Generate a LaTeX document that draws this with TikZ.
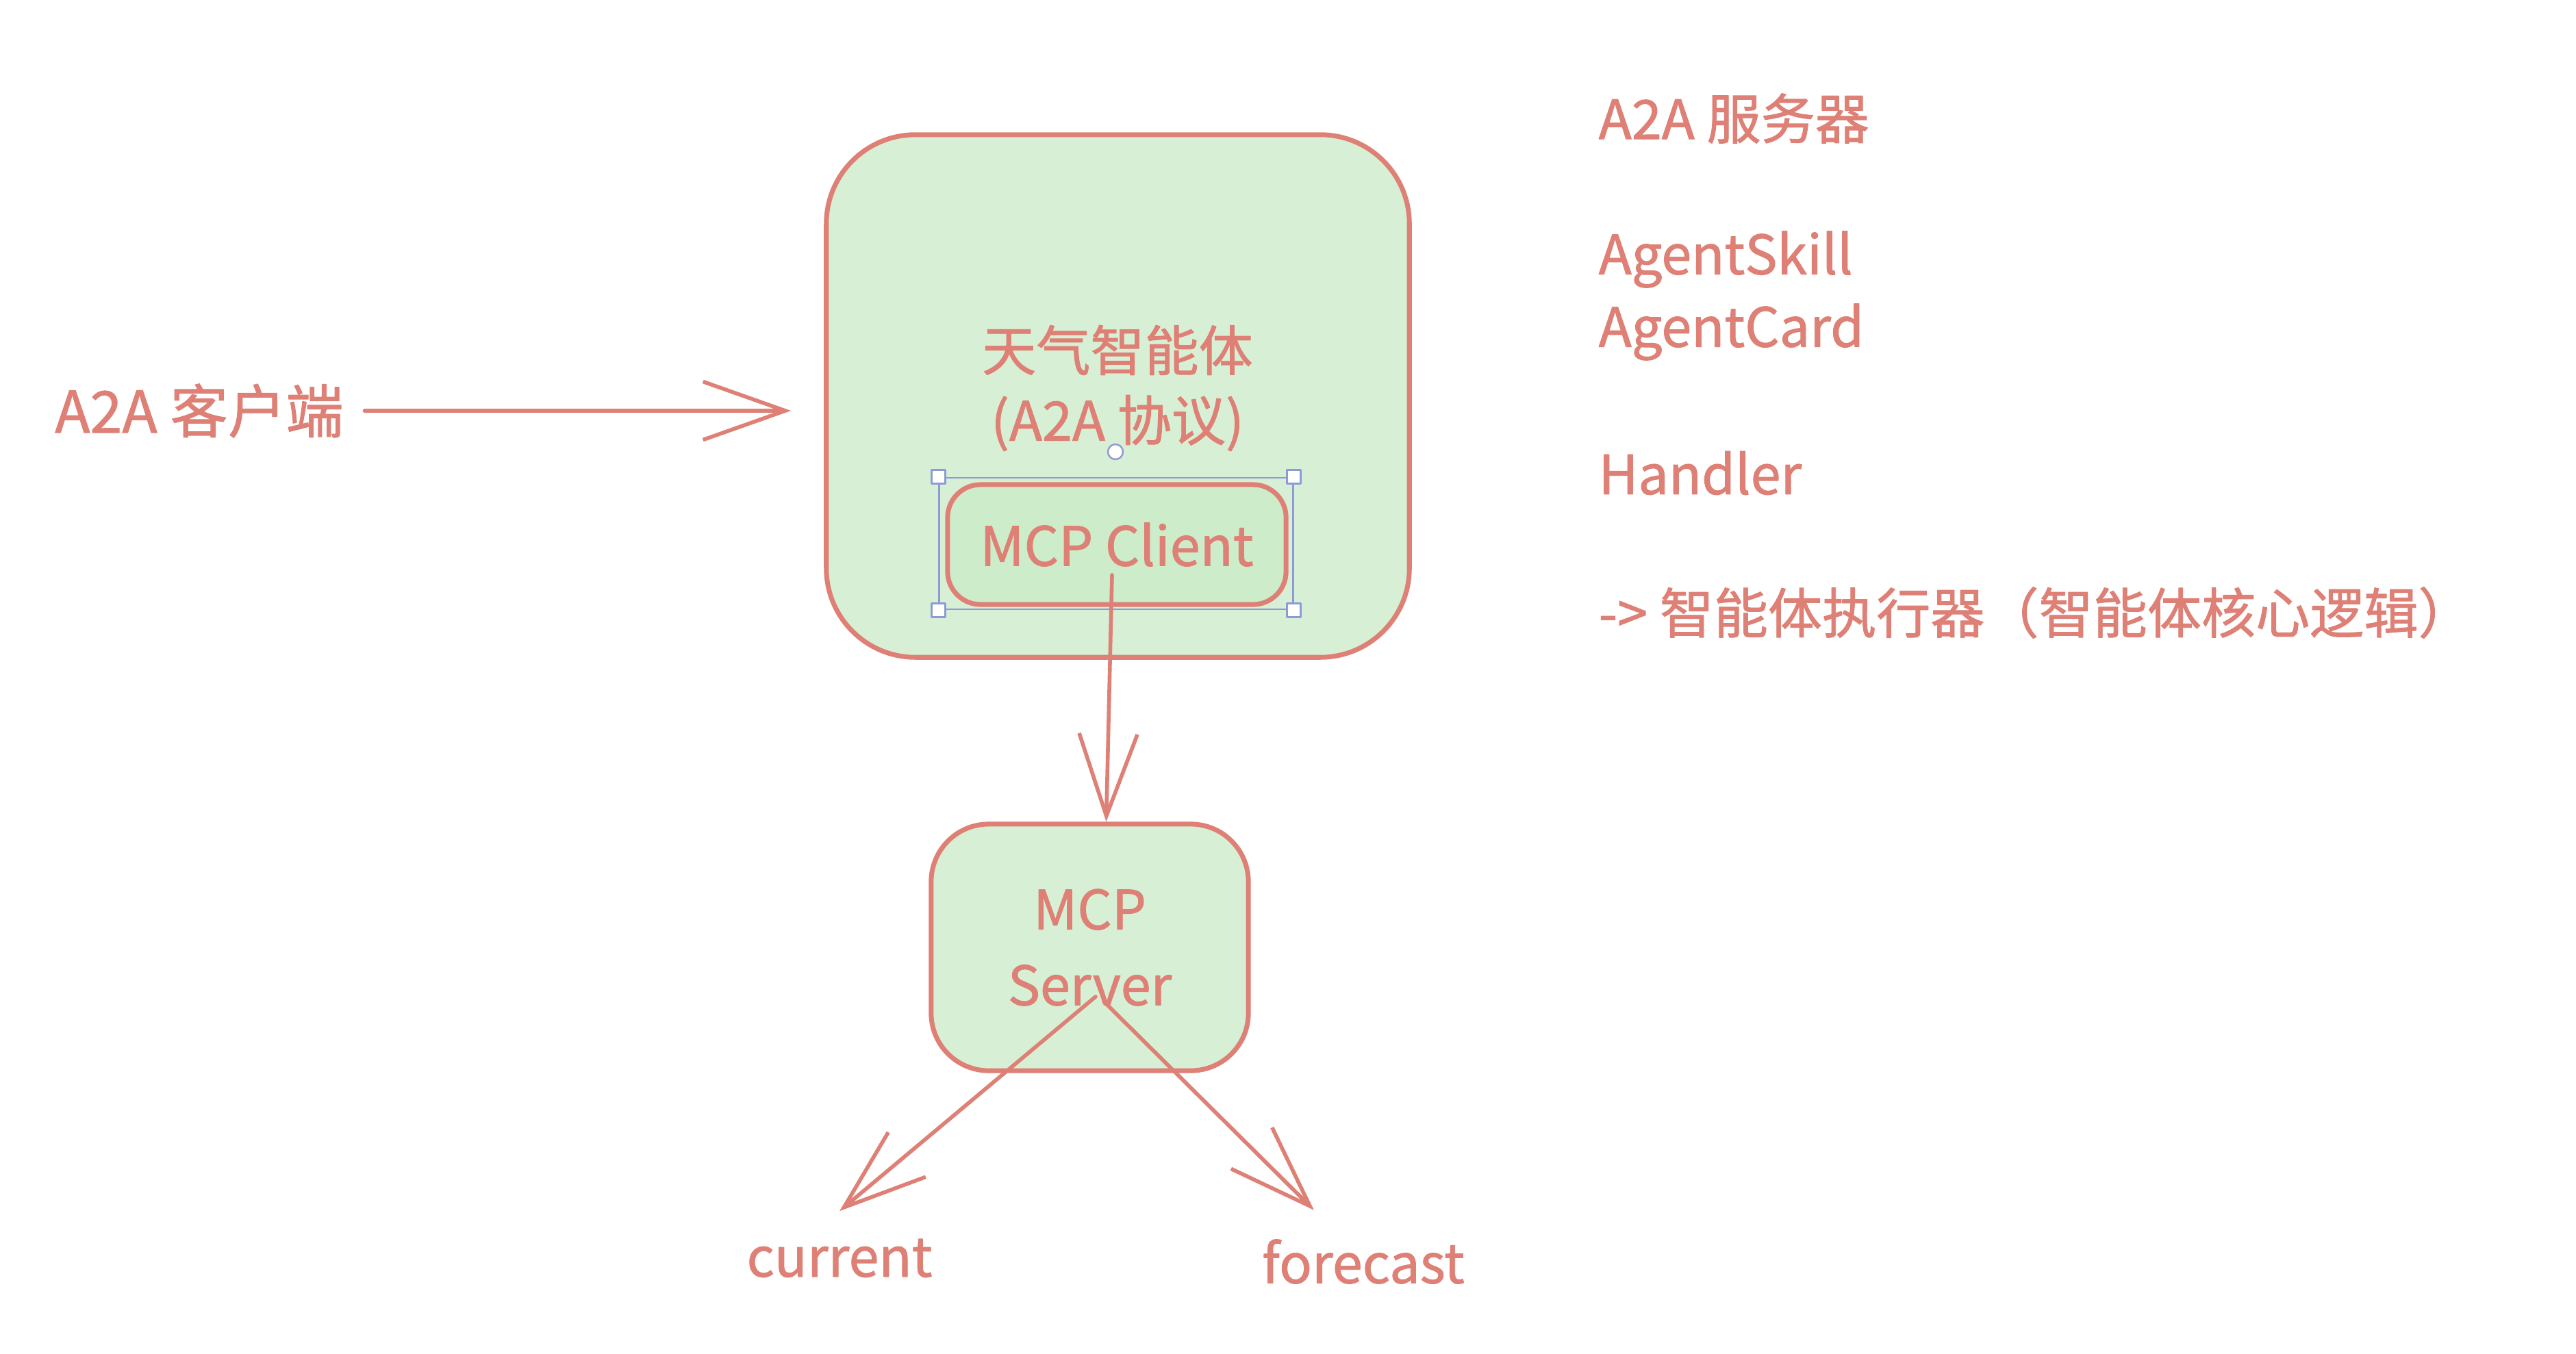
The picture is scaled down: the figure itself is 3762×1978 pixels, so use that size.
\documentclass[tikz,border=0pt]{standalone}
\usepackage{fontspec}
\setmainfont{Noto Sans CJK SC}[FakeBold=1.2]
\usetikzlibrary{arrows.meta}
\definecolor{ink}{RGB}{222,128,117}
\definecolor{pale}{RGB}{215,240,213}
\definecolor{pale2}{RGB}{204,236,202}
\definecolor{sel}{RGB}{140,155,215}
\begin{document}
\begin{tikzpicture}[x=0.01cm,y=-0.01cm, line cap=round, line join=round,
  txt/.style={text=ink, font=\fontsize{22.5pt}{29pt}\selectfont, inner sep=0pt},
  box/.style={draw=ink, line width=2pt, fill=pale, rounded corners=#1, inner sep=0pt},
  arr/.style={draw=ink, line width=1.6pt, -{Straight Barb[length=1.2cm,width=0.85cm]}},
  handle/.style={draw=sel, fill=white, line width=0.7pt, minimum size=0.2cm, inner sep=0pt}]
\path[use as bounding box] (0,0) rectangle (3762,1978);
\fill[white] (0,0) rectangle (3762,1978);

% agent box
\node[box=1.3cm, minimum width=8.51cm, minimum height=7.63cm] (agent) at (1632.5,578.5) {};
\node[txt, align=center] (agenttitle) at (1632,567) {天气智能体\\(A2A 协议)};

% MCP client
\node[box=0.48cm, fill=pale2, minimum width=4.94cm, minimum height=1.75cm, txt] (client) at (1631,795.5) {MCP Client};
\node[draw=sel, line width=0.8pt, minimum width=5.16cm, minimum height=1.92cm, inner sep=0pt] (selbox) at (1630,794) {};
\node[handle] (h1) at (selbox.north west) {};
\node[handle] (h2) at (selbox.north east) {};
\node[handle] (h3) at (selbox.south west) {};
\node[handle] (h4) at (selbox.south east) {};
\node[draw=sel, fill=white, circle, minimum size=0.22cm, inner sep=0pt, line width=0.7pt] (rot) at (1629,660) {};

% MCP server
\node[box=0.84cm, minimum width=4.63cm, minimum height=3.6cm, txt, align=center, font=\fontsize{22.5pt}{31.5pt}\selectfont] (server) at (1591.5,1384) {MCP\\Server};

% labels
\node[txt] (current) at (1226,1838) {current};
\node[txt] (forecast) at (1991,1843) {forecast};
\node[txt, font=\fontsize{24pt}{29pt}\selectfont] (a2aclient) at (291,600) {A2A 客户端};

% right notes
\node[txt, anchor=west] (srvtitle) at (2334,173) {A2A 服务器};
\node[txt, anchor=west] (skill) at (2334,379) {AgentSkill};
\node[txt, anchor=west] (card) at (2334,485) {AgentCard};
\node[txt, anchor=west] (handler) at (2334,691) {Handler};
\node[txt, anchor=west] (executor) at (2334,895) {-> 智能体执行器（智能体核心逻辑）};

% connectors
\coordinate (cstart) at (1624,840);
\coordinate (s1) at (1600,1456);
\coordinate (s2) at (1612,1463);
\draw[arr] (cstart) -- ([xshift=0.24cm]server.north);
\draw[arr] (s1) -- ([yshift=0.4cm]current.north);
\draw[arr] (s2) -- ([xshift=-0.72cm,yshift=0.42cm]forecast.north);
\draw[arr, shorten >=0.48cm] ([xshift=0.3cm]a2aclient.east) -- (a2aclient.east -| agent.west);
\end{tikzpicture}
\end{document}
